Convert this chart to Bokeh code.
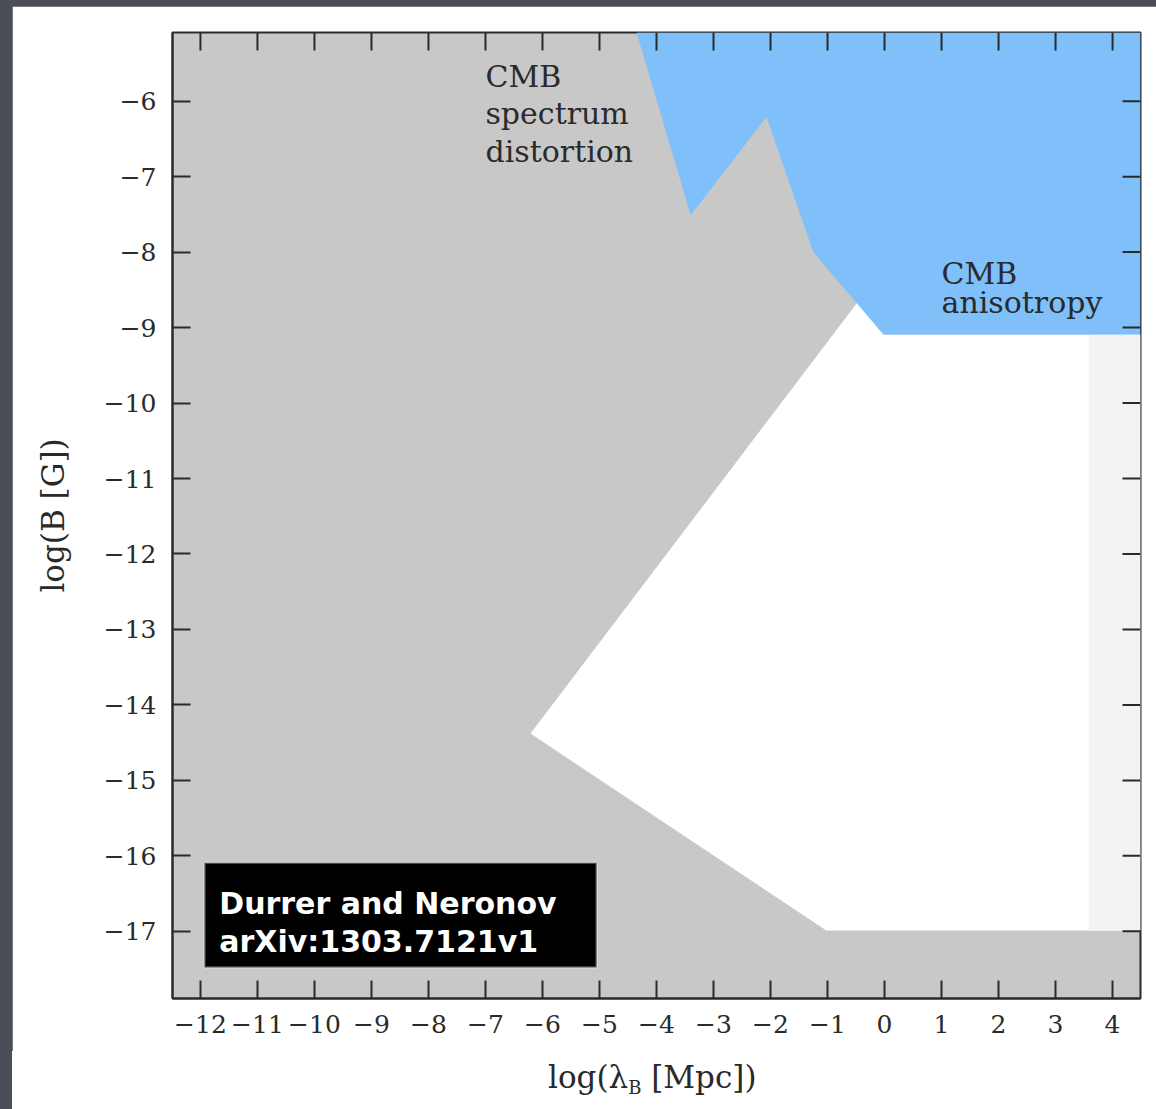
import math

from bokeh.plotting import figure
from bokeh.models import Range1d, FixedTicker, Label, BoxAnnotation, Div
from bokeh.layouts import column
from bokeh.core.properties import value
from bokeh.embed import file_html
from bokeh.resources import INLINE

# ---- axis extents, ticks and tick labels ----
x_lo, x_hi = -12.49, 4.49
y_lo, y_hi = -17.89, -5.09
x_ticks = [-12, -11, -10, -9, -8, -7, -6, -5, -4, -3, -2, -1, 0, 1, 2, 3, 4]
x_tick_labels = ["−12", "−11", "−10", "−9", "−8", "−7", "−6", "−5", "−4",
                 "−3", "−2", "−1", "0", "1", "2", "3", "4"]
y_ticks = [-17, -16, -15, -14, -13, -12, -11, -10, -9, -8, -7, -6]
y_tick_labels = ["−17", "−16", "−15", "−14", "−13", "−12", "−11", "−10",
                 "−9", "−8", "−7", "−6"]

# ---- regions in the (log lambda_B, log B) plane ----
# CMB anisotropy bound (closes along the top/right of the plotted range)
aniso_x = [-4.35, -3.40, -2.07, -1.25, -0.02, x_hi, x_hi]
aniso_y = [y_hi, -7.51, -6.21, -8.00, -9.09, -9.09, y_hi]

# region still allowed by all bounds
allowed_x = [-6.21, -0.47, -0.02, x_hi, x_hi, -1.02]
allowed_y = [-14.38, -8.66, -9.09, -9.09, -16.99, -16.99]

# lightly shaded band at the largest scales
band_left, band_bottom, band_top = 3.58, -16.99, -9.09

GREY = "#c8c8c8"
BLUE = "#7fbffa"
INK = "#2a2a2a"
SLATE = "#4b4e56"
SERIF = "DejaVu Serif"
TICK_LEN = 18

fig = figure(width=1144, height=1045,
             x_range=Range1d(x_lo, x_hi), y_range=Range1d(y_lo, y_hi),
             output_backend="svg", toolbar_location=None,
             min_border_left=160, min_border_right=16,
             min_border_top=26, min_border_bottom=53)
fig.margin = (6, 0, 0, 12)
fig.border_fill_color = "white"
fig.background_fill_color = GREY
fig.outline_line_color = INK
fig.outline_line_width = 2
fig.xgrid.visible = False
fig.ygrid.visible = False

fig.patch(allowed_x, allowed_y, fill_color="white", line_color=None)
fig.quad(left=[band_left], right=[x_hi], bottom=[band_bottom], top=[band_top],
         fill_color="#f3f3f3", line_color=None)
fig.patch(aniso_x, aniso_y, fill_color=BLUE, line_color=None)

fig.text(x=[-7.0], y=[-5.44], text=["CMB\nspectrum\ndistortion"],
         text_font=value(SERIF), text_font_size="30px", text_color=INK,
         text_align="left", text_baseline="top", text_line_height=1.07)
fig.text(x=[1.0], y=[-8.05], text=["CMB\nanisotropy"],
         text_font=value(SERIF), text_font_size="30px", text_color=INK,
         text_align="left", text_baseline="top", text_line_height=0.82)

# mirrored inward ticks along the top and right edges of the frame
fig.ray(x=x_ticks, y=[y_hi] * len(x_ticks), length=TICK_LEN, length_units="screen",
        angle=-math.pi / 2, line_color=INK, line_width=2)
fig.ray(x=[x_hi] * len(y_ticks), y=y_ticks, length=TICK_LEN, length_units="screen",
        angle=math.pi, line_color=INK, line_width=2)


def style_axis(ax, ticks, labels):
    ax.ticker = FixedTicker(ticks=ticks)
    ax.major_label_overrides = {t: l for t, l in zip(ticks, labels)}
    ax.minor_tick_line_color = None
    ax.major_tick_in = TICK_LEN
    ax.major_tick_out = 0
    ax.major_tick_line_color = INK
    ax.major_tick_line_width = 2
    ax.axis_line_color = INK
    ax.axis_line_width = 2
    ax.major_label_text_font = SERIF
    ax.major_label_text_color = INK
    ax.major_label_text_font_size = "25px"


style_axis(fig.xaxis[0], x_ticks, x_tick_labels)
fig.xaxis[0].major_label_standoff = 16
style_axis(fig.yaxis[0], y_ticks, y_tick_labels)
fig.yaxis[0].major_label_standoff = 16
fig.yaxis[0].axis_label = "log(B [G])"
fig.yaxis[0].axis_label_text_font = SERIF
fig.yaxis[0].axis_label_text_font_size = "31px"
fig.yaxis[0].axis_label_text_font_style = "normal"
fig.yaxis[0].axis_label_text_color = INK
fig.yaxis[0].axis_label_standoff = 30

# citation box
fig.add_layout(BoxAnnotation(left=-11.93, right=-5.05, top=-16.09, bottom=-17.48,
                             fill_color="black", fill_alpha=1.0,
                             line_color="white", line_width=2.5))
for txt, yy in [("Durrer and Neronov", -16.63), ("arXiv:1303.7121v1", -17.13)]:
    fig.add_layout(Label(x=-11.67, y=yy, text=txt, text_font="DejaVu Sans",
                         text_font_style="bold", text_font_size="30px",
                         text_color="white", text_align="left",
                         text_baseline="alphabetic"))

# x axis title (with subscript), set as a strip of text under the plot
xlabel = Div(
    text=('<div style="position:relative; margin-left:12px; width:1144px; height:58px; '
          'background-color:white;">'
          '<div style="position:absolute; left:536px; top:8px; white-space:nowrap; '
          f'font-family:\'{SERIF}\'; font-size:31px; line-height:normal; color:{INK};">'
          'log(λ<sub style="font-size:18px; vertical-align:-6px;">B</sub> [Mpc])'
          '</div></div>'),
    width=1156, height=58, margin=(0, 0, 0, 0),
    styles={"background-color": SLATE},
)

page = column(fig, xlabel, spacing=0, styles={"background-color": SLATE})

open("out.html", "w").write(file_html(page, INLINE))
